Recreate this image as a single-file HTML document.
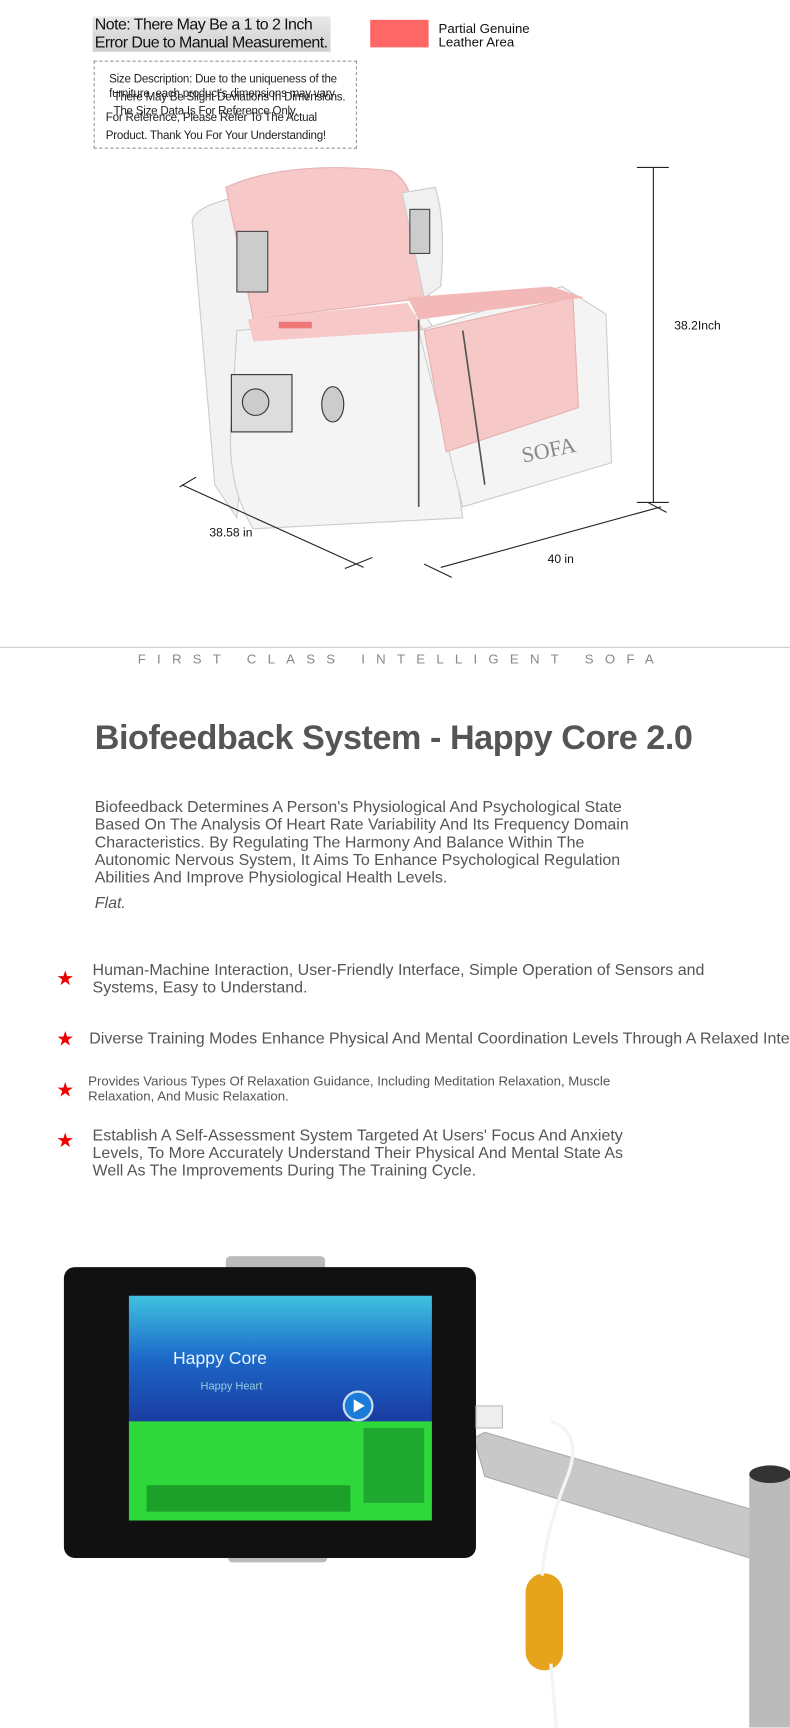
<!DOCTYPE html>
<html><head><meta charset="utf-8"><style>
html,body{margin:0;padding:0;background:#fff;width:790px;height:1728px;overflow:hidden}
#w{position:absolute;left:0;top:0;width:717px;height:1568px;overflow:hidden;transform:scale(1.10181);transform-origin:0 0;font-family:"Liberation Sans",Arial,sans-serif}
.a{position:absolute}
.t{color:#555;font-size:14.5px;line-height:16px}
.star{position:absolute;left:51px;color:#e00;font-size:18px;line-height:18px}
</style></head><body><div id="w">
<div class="a" style="left:84px;top:15px;width:216px;height:32px;background:linear-gradient(#e8e8e8,#cfcfcf)"></div>
<div class="a" style="left:86px;top:15px;font-size:14.5px;line-height:16px;color:#111;letter-spacing:-0.5px">Note: There May Be a 1 to 2 Inch<br>Error Due to Manual Measurement.</div>
<div class="a" style="left:336px;top:18px;width:53px;height:25px;background:#ff6666"></div>
<div class="a" style="left:398px;top:20px;font-size:12px;line-height:12px;color:#111">Partial Genuine<br>Leather Area</div>
<div class="a" style="left:85px;top:55px;width:237px;height:78px;border:1px dashed #999"></div>
<div class="a" style="left:99px;top:66px;font-size:10.5px;line-height:13px;color:#222;letter-spacing:-0.2px">Size Description: Due to the uniqueness of the<br>furniture, each product's dimensions may vary.</div>
<div class="a" style="left:103px;top:82px;font-size:10.5px;line-height:13px;color:#222;letter-spacing:-0.2px">There May Be Slight Deviations In Dimensions.<br>The Size Data Is For Reference Only.</div>
<div class="a" style="left:96px;top:99px;font-size:10.5px;line-height:16px;color:#222;letter-spacing:-0.2px">For Reference, Please Refer To The Actual<br>Product. Thank You For Your Understanding!</div>
<svg class="a" style="left:0;top:140px" width="717" height="390" viewBox="0 140 717 390">
<path d="M175 205 Q170 190 210 180 L230 190 L230 300 L215 470 L195 440 Z" fill="#f2f2f2" stroke="#ccc"/>
<path d="M205 170 Q260 145 355 155 Q375 165 375 200 L390 270 L230 290 Z" fill="#f6c8c8" stroke="#e6b0b0"/>
<path d="M365 175 L395 170 Q405 200 400 260 L385 270 Z" fill="#f0f0f0" stroke="#ccc"/>
<path d="M215 300 L385 285 L395 300 L420 470 L230 480 Q205 440 210 380 Z" fill="#f4f4f4" stroke="#ccc"/>
<path d="M225 290 L370 275 L385 300 L230 310 Z" fill="#f6c8c8"/>
<path d="M380 300 L510 260 L550 285 L555 420 L420 460 Z" fill="#f4f4f4" stroke="#ccc"/>
<path d="M385 300 L520 270 L525 370 L405 410 Z" fill="#f6c8c8" stroke="#e6b0b0"/>
<path d="M370 270 L500 260 L530 270 L380 290 Z" fill="#f3b8b8"/>
<rect x="210" y="340" width="55" height="52" fill="#ddd" stroke="#333"/>
<circle cx="232" cy="365" r="12" fill="#ccc" stroke="#333"/>
<ellipse cx="302" cy="367" rx="10" ry="16" fill="#ccc" stroke="#333"/>
<rect x="215" y="210" width="28" height="55" fill="#ccc" stroke="#444"/>
<rect x="372" y="190" width="18" height="40" fill="#ccc" stroke="#444"/>
<rect x="253" y="292" width="30" height="6" fill="#e77"/>
<path d="M380 290 L380 460 M420 300 L440 440" stroke="#555" stroke-width="1.5" fill="none"/>
<text x="475" y="420" font-family="Liberation Serif" font-size="20" fill="#888" transform="rotate(-12 475 420)">SOFA</text>
<g stroke="#222" stroke-width="1" fill="none">
<path d="M593 152 V456 M578 152 H607 M578 456 H607"/>
<path d="M165 440 L330 515 M178 433 L163 442 M313 516 L338 506"/>
<path d="M400 515 L600 460 M385 512 L410 524 M588 456 L605 465"/>
</g>
<text x="612" y="299" font-size="11" fill="#111">38.2Inch</text>
<text x="190" y="487" font-size="11" fill="#111">38.58 in</text>
<text x="497" y="511" font-size="11" fill="#111">40 in</text>
</svg>
<div class="a" style="left:0;top:587px;width:717px;height:1px;background:#ccc"></div>
<div class="a" style="left:125px;top:591px;font-size:12px;color:#888;letter-spacing:10.2px">FIRST CLASS INTELLIGENT SOFA</div>
<div class="a" style="left:86px;top:652px;font-size:31px;font-weight:bold;color:#555;letter-spacing:-0.4px">Biofeedback System - Happy Core 2.0</div>
<div class="a t" style="left:86px;top:725px">Biofeedback Determines A Person's Physiological And Psychological State<br>Based On The Analysis Of Heart Rate Variability And Its Frequency Domain<br>Characteristics. By Regulating The Harmony And Balance Within The<br>Autonomic Nervous System, It Aims To Enhance Psychological Regulation<br>Abilities And Improve Physiological Health Levels.</div>
<div class="a t" style="left:86px;top:812px;font-style:italic">Flat.</div>
<div class="star" style="top:879px">★</div>
<div class="a t" style="left:84px;top:873px">Human-Machine Interaction, User-Friendly Interface, Simple Operation of Sensors and<br>Systems, Easy to Understand.</div>
<div class="star" style="top:934px">★</div>
<div class="a t" style="left:81px;top:935px;white-space:nowrap">Diverse Training Modes Enhance Physical And Mental Coordination Levels Through A Relaxed Interactive</div>
<div class="star" style="top:980px">★</div>
<div class="a" style="left:80px;top:974px;font-size:12px;line-height:14px;color:#555">Provides Various Types Of Relaxation Guidance, Including Meditation Relaxation, Muscle<br>Relaxation, And Music Relaxation.</div>
<div class="star" style="top:1026px">★</div>
<div class="a t" style="left:84px;top:1023px">Establish A Self-Assessment System Targeted At Users' Focus And Anxiety<br>Levels, To More Accurately Understand Their Physical And Mental State As<br>Well As The Improvements During The Training Cycle.</div>
<svg class="a" style="left:0;top:1130px" width="717" height="438" viewBox="0 1130 717 438">
<path d="M430 1305 L440 1300 L717 1380 L717 1425 L700 1420 L440 1340 Z" fill="#c8c8c8" stroke="#aaa"/>
<rect x="680" y="1340" width="37" height="228" fill="#bbb"/>
<ellipse cx="699" cy="1338" rx="19" ry="8" fill="#333"/>
<rect x="205" y="1140" width="90" height="18" rx="4" fill="#bbb"/>
<rect x="207" y="1400" width="90" height="18" rx="4" fill="#bbb"/>
<rect x="58" y="1150" width="374" height="264" rx="10" fill="#111"/>
<defs><linearGradient id="b" x1="0" y1="0" x2="0" y2="1"><stop offset="0" stop-color="#3fc2e0"/><stop offset="0.5" stop-color="#1c67c8"/><stop offset="1" stop-color="#1a3aa0"/></linearGradient></defs>
<rect x="117" y="1176" width="275" height="116" fill="url(#b)"/>
<rect x="117" y="1290" width="275" height="90" fill="#2ed83a"/>
<rect x="330" y="1296" width="55" height="68" fill="#1fa830"/>
<text x="157" y="1238" font-size="16" fill="#e8f4ff">Happy Core</text>
<text x="182" y="1261" font-size="10" fill="#9cd">Happy Heart</text>
<circle cx="325" cy="1276" r="13" fill="#1a7bd8" stroke="#cde" stroke-width="2"/>
<path d="M321 1270 L331 1276 L321 1282 Z" fill="#fff"/>
<rect x="133" y="1348" width="185" height="24" fill="#1ca02a"/>
<rect x="477" y="1428" width="34" height="88" rx="17" fill="#e6a41c"/>
<path d="M500 1290 Q530 1300 515 1340 Q495 1390 492 1430 M500 1510 L505 1568" stroke="#f4f4f4" stroke-width="3" fill="none"/>
<rect x="432" y="1276" width="24" height="20" fill="#eee" stroke="#bbb"/>
</svg>
</div></body></html>
